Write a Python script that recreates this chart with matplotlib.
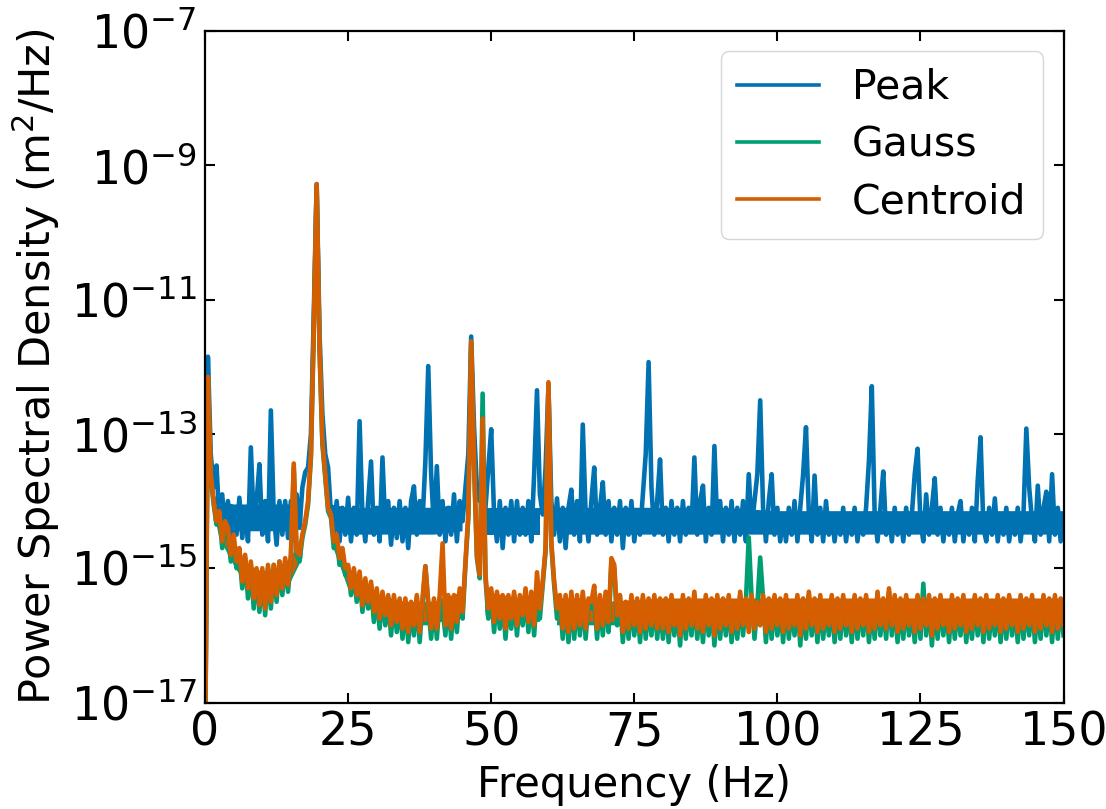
import matplotlib
matplotlib.use("Agg")
import matplotlib.pyplot as plt
import numpy as np

nan = float("nan")

# frequency axis: one reading every 0.5 Hz, 0..150 Hz
freq = np.linspace(0, 150, 301)

# log10 of PSD (m^2/Hz), one row per 10 Hz
peak_log = [
    -18.0, -11.85, -13.3, -13.8, -13.47, -14.3, -13.9, -14.5, -14.0, -14.6, -14.1, -14.5, -13.95, -14.55, -14.1, -14.6, -13.2, -14.3, -14.0, -13.45,
    -14.5, -14.0, -14.6, -12.65, -14.2, -14.65, -14.0, -14.5, -14.0, -14.55, -14.0, -14.5, -13.9, -14.4, -13.8, -13.57, -13.5, -13.0, -11.2, -9.28,
    -11.5, -12.7, -13.3, -13.5, -14.2, -14.5, -14.0, -14.6, -14.1, -14.5, -13.95, -14.6, -14.1, -14.5, -12.81, -14.2, -14.6, -14.0, -13.41, -14.5,
    -14.1, -14.6, -13.35, -14.4, -14.0, -14.65, -14.1, -14.55, -14.0, -14.6, -14.1, -14.7, -14.0, -13.78, -14.5, -14.0, -14.3, -13.4, -11.99, -13.6,
    -14.4, -13.48, -14.5, -14.0, -14.6, -14.1, -14.5, -13.9, -14.6, -14.0, -14.3, -13.8, -13.3, -11.55, -12.9, -13.8, -14.0, -13.5, -14.1, -13.5,
    -12.93, -14.2, -14.6, -14.0, -14.7, -14.1, -14.5, -14.0, -14.6, -14.0, -14.5, -14.1, -14.5, -14.0, -14.6, -13.6, -12.35, -13.9, -14.2, -13.5,
    -12.3, -14.0, -14.5, -13.96, -14.6, -14.1, -14.7, -14.1, -13.83, -14.5, -14.0, -14.6, -12.86, -14.2, -14.6, -14.0, -13.5, -14.5, -14.1, -13.72,
    -14.5, -14.0, -14.6, -14.1, -14.5, -14.0, -14.7, -14.1, -14.5, -14.0, -14.6, -14.2, -14.5, -13.9, -13.3, -11.93, -13.8, -14.5, -14.0, -13.38,
    -14.5, -14.1, -14.6, -14.0, -14.5, -14.1, -14.6, -14.0, -14.5, -14.1, -14.4, -13.35, -14.5, -14.0, -13.77, -14.6, -14.1, -14.5, -13.18, -14.4,
    -14.0, -14.6, -14.1, -14.5, -14.0, -14.6, -14.1, -14.5, -14.0, -14.6, -13.6, -14.4, -14.0, -13.6, -12.5, -14.1, -14.6, -14.0, -13.6, -14.5,
    -14.1, -14.6, -14.2, -14.6, -14.1, -14.5, -14.0, -14.6, -14.1, -13.6, -12.9, -14.2, -14.6, -13.62, -14.5, -14.1, -14.6, -14.0, -14.5, -14.2,
    -14.6, -14.2, -14.5, -14.1, -14.6, -14.2, -14.5, -14.1, -14.6, -14.2, -14.5, -14.1, -13.4, -12.29, -14.2, -14.6, -14.1, -13.56, -14.5, -14.2,
    -14.6, -14.1, -14.5, -14.2, -14.6, -14.1, -14.5, -14.2, -13.6, -13.22, -14.3, -14.6, -13.9, -14.5, -14.1, -13.66, -14.5, -14.1, -14.6, -14.2,
    -14.5, -14.1, -14.6, -14.2, -14.0, -14.6, -14.2, -14.5, -14.1, -14.6, -13.7, -13.05, -14.4, -14.6, -14.1, -14.5, -13.96, -14.6, -14.2, -14.5,
    -14.1, -14.6, -14.2, -14.5, -14.1, -14.6, -14.2, -12.92, -13.8, -14.3, -14.6, -13.77, -14.5, -14.1, -13.86, -14.6, -13.6, -14.5, -14.1, -14.6,
    -14.2,
]

gauss_log = [
    -18.0, -12.2, -13.65, -14.05, -14.35, -14.2, -14.7, -14.35, -14.5, -14.9, -14.6, -15.0, -14.8, -15.3, -14.85, -15.45, -14.95, -15.6, -15.05, -15.65,
    -15.05, -15.7, -15.0, -15.6, -14.95, -15.5, -14.9, -15.4, -14.9, -15.35, -14.85, -13.5, -14.8, -14.9, -14.55, -14.35, -14.05, -13.35, -11.45, -9.3,
    -11.75, -13.15, -13.65, -14.15, -14.25, -14.7, -14.55, -14.95, -14.75, -15.1, -15.0, -15.4, -15.05, -15.5, -15.1, -15.65, -15.2, -15.6, -15.25, -15.8,
    -15.35, -15.9, -15.4, -15.85, -15.45, -16.0, -15.45, -15.95, -15.5, -16.05, -15.5, -16.1, -15.55, -16.0, -15.45, -16.1, -15.5, -14.97, -15.55, -16.05,
    -15.5, -16.05, -15.45, -15.6, -16.0, -15.45, -16.05, -15.45, -15.95, -15.35, -15.75, -14.95, -14.25, -11.65, -13.45, -14.85, -15.15, -12.4, -15.15, -15.75,
    -15.35, -15.95, -15.4, -15.9, -15.45, -16.05, -15.45, -15.9, -15.4, -16.0, -15.45, -15.85, -15.35, -15.95, -15.4, -16.0, -15.35, -15.75, -15.25, -14.75,
    -12.25, -14.65, -15.25, -15.75, -15.45, -16.05, -15.45, -16.1, -15.4, -16.05, -15.45, -16.0, -15.4, -16.05, -15.5, -15.6, -15.45, -16.05, -15.45, -16.0,
    -15.4, -15.95, -14.9, -15.0, -15.85, -15.45, -16.1, -15.55, -16.05, -15.45, -16.0, -15.5, -16.1, -15.45, -16.05, -15.5, -16.0, -15.45, -16.05, -15.5,
    -16.05, -15.5, -16.1, -15.45, -16.0, -15.55, -16.15, -15.45, -16.05, -15.5, -16.0, -15.4, -16.05, -15.55, -16.1, -15.45, -16.0, -15.5, -16.15, -15.45,
    -16.05, -15.5, -16.0, -15.45, -16.1, -15.55, -16.05, -15.4, -16.0, -15.5, -14.54, -15.45, -16.05, -15.55, -14.84, -15.45, -16.1, -15.5, -16.05, -15.45,
    -16.0, -15.5, -16.1, -15.45, -16.05, -15.55, -16.0, -15.45, -16.15, -15.5, -16.05, -15.4, -16.0, -15.5, -16.1, -15.45, -16.05, -15.55, -16.0, -15.45,
    -16.1, -15.5, -16.05, -15.45, -16.0, -15.55, -16.1, -15.45, -16.05, -15.5, -16.0, -15.45, -16.1, -15.55, -16.05, -15.4, -16.0, -15.5, -16.05, -15.35,
    -16.0, -15.45, -16.1, -15.5, -16.05, -15.45, -16.0, -15.55, -16.1, -15.45, -16.05, -15.23, -16.0, -15.45, -16.15, -15.5, -16.05, -15.45, -16.0, -15.55,
    -16.1, -15.45, -16.05, -15.5, -16.0, -15.45, -16.1, -15.55, -16.05, -15.45, -16.0, -15.5, -16.1, -15.45, -16.05, -15.55, -16.0, -15.45, -16.1, -15.5,
    -16.05, -15.45, -16.0, -15.55, -16.1, -15.45, -16.05, -15.5, -16.0, -15.45, -16.1, -15.55, -16.05, -15.45, -16.0, -15.5, -16.1, -15.45, -16.05, -15.5,
    -16.0,
]

centroid_log = [
    -18.0, -12.15, -13.6, -14.0, -14.3, -14.15, -14.6, -14.3, -14.4, -14.8, -14.5, -14.9, -14.7, -15.2, -14.8, -15.3, -14.9, -15.45, -15.0, -15.55,
    -15.0, -15.6, -14.95, -15.5, -14.95, -15.4, -14.9, -15.3, -14.85, -15.25, -14.8, -13.44, -14.75, -14.8, -14.5, -14.3, -14.0, -13.3, -11.4, -9.28,
    -11.7, -13.1, -13.6, -14.1, -14.2, -14.6, -14.5, -14.85, -14.7, -15.0, -14.95, -15.3, -15.0, -15.4, -15.05, -15.55, -15.15, -15.5, -15.2, -15.65,
    -15.3, -15.75, -15.35, -15.7, -15.4, -15.85, -15.4, -15.8, -15.45, -15.9, -15.45, -15.95, -15.5, -15.85, -15.4, -15.95, -15.45, -14.97, -15.5, -15.9,
    -15.45, -15.9, -15.4, -14.63, -15.85, -15.4, -15.9, -15.4, -15.8, -15.3, -15.65, -14.9, -14.2, -11.62, -13.4, -14.8, -15.1, -12.77, -15.1, -15.6,
    -15.3, -15.8, -15.35, -15.75, -15.4, -15.9, -15.4, -15.75, -15.35, -15.85, -15.4, -15.7, -15.3, -15.8, -15.35, -15.85, -15.06, -15.6, -15.2, -14.7,
    -12.23, -14.6, -15.2, -15.6, -15.4, -15.9, -15.4, -15.95, -15.35, -15.9, -15.4, -15.85, -15.35, -15.9, -15.45, -15.5, -15.26, -15.9, -15.4, -15.85,
    -15.35, -15.8, -14.85, -14.95, -15.7, -15.4, -15.95, -15.5, -15.9, -15.4, -15.85, -15.45, -15.95, -15.4, -15.9, -15.45, -15.85, -15.4, -15.9, -15.45,
    -15.9, -15.45, -15.95, -15.4, -15.85, -15.5, -16.0, -15.4, -15.9, -15.45, -15.85, -15.35, -15.9, -15.5, -15.95, -15.4, -15.85, -15.45, -16.0, -15.4,
    -15.9, -15.45, -15.85, -15.4, -15.95, -15.5, -15.9, -15.35, -15.85, -15.45, -15.95, -15.4, -15.9, -15.5, -15.85, -15.4, -15.95, -15.45, -15.9, -15.4,
    -15.85, -15.45, -15.95, -15.4, -15.9, -15.5, -15.85, -15.4, -16.0, -15.45, -15.9, -15.35, -15.85, -15.45, -15.95, -15.4, -15.9, -15.5, -15.85, -15.4,
    -15.95, -15.45, -15.9, -15.4, -15.85, -15.5, -15.95, -15.4, -15.9, -15.45, -15.85, -15.4, -15.95, -15.5, -15.9, -15.35, -15.85, -15.45, -15.9, -15.3,
    -15.85, -15.4, -15.95, -15.45, -15.9, -15.4, -15.85, -15.5, -15.95, -15.4, -15.9, -15.45, -15.85, -15.4, -16.0, -15.45, -15.9, -15.4, -15.85, -15.5,
    -15.95, -15.4, -15.9, -15.45, -15.85, -15.4, -15.95, -15.5, -15.9, -15.4, -15.85, -15.45, -15.95, -15.4, -15.9, -15.5, -15.85, -15.4, -15.95, -15.45,
    -15.9, -15.4, -15.85, -15.5, -15.95, -15.4, -15.9, -15.45, -15.85, -15.4, -15.95, -15.5, -15.9, -15.4, -15.85, -15.45, -15.95, -15.4, -15.9, -15.45,
    -15.85,
]

# dense core of each noise floor (log10), where the trace overlaps itself;
# nan leaves a gap at the large resonances
band_freq = [1.5, 2.5, 5, 7.5, 10, 12.5, 15, 17, 19.5, 22,
             25, 30, 35, 40, 45, 47, 49, 55, 58.5, 60,
             61.5, 65, 70, 80, 90, 100, 110, 120, 130, 140,
             150]
peak_core_hi = [-13.9, -14.0, -14.05, -14.05, -14.05, -14.05, -14.05, -13.95, nan, -14.05,
                -14.1, -14.1, -14.1, -14.1, -14.05, nan, -14.1, -14.1, -14.1, nan,
                -14.1, -14.1, -14.1, -14.1, -14.1, -14.15, -14.15, -14.15, -14.15, -14.15,
                -14.15]
peak_core_lo = [-14.3, -14.4, -14.45, -14.45, -14.45, -14.45, -14.45, -14.35, nan, -14.4,
                -14.5, -14.5, -14.5, -14.5, -14.45, nan, -14.5, -14.5, -14.5, nan,
                -14.5, -14.5, -14.5, -14.5, -14.5, -14.5, -14.5, -14.5, -14.5, -14.5,
                -14.5]
cent_core_hi = [-13.9, -14.2, -14.6, -14.95, -15.05, -15.0, -14.85, -14.5, nan, -14.3,
                -15.0, -15.4, -15.5, -15.5, -15.35, nan, -15.35, -15.45, -15.45, nan,
                -15.45, -15.45, -15.5, -15.45, -15.45, -15.45, -15.45, -15.45, -15.45, -15.45,
                -15.45]
cent_core_lo = [-14.1, -14.5, -14.9, -15.25, -15.4, -15.3, -15.15, -14.8, nan, -14.55,
                -15.25, -15.65, -15.8, -15.8, -15.6, nan, -15.65, -15.75, -15.75, nan,
                -15.8, -15.8, -15.8, -15.8, -15.8, -15.8, -15.8, -15.8, -15.8, -15.8,
                -15.8]
gauss_core_hi = [-13.95, -14.25, -14.65, -15.0, -15.1, -15.05, -14.9, -14.55, nan, -14.35,
                 -15.05, -15.45, -15.55, -15.55, -15.4, nan, -15.4, -15.5, -15.5, nan,
                 -15.5, -15.5, -15.55, -15.5, -15.5, -15.5, -15.5, -15.5, -15.5, -15.5,
                 -15.5]
gauss_core_lo = [-14.15, -14.55, -14.95, -15.3, -15.45, -15.35, -15.2, -14.85, nan, -14.6,
                 -15.3, -15.7, -15.85, -15.85, -15.65, nan, -15.7, -15.8, -15.8, nan,
                 -15.85, -15.85, -15.85, -15.85, -15.85, -15.85, -15.85, -15.85, -15.85, -15.85,
                 -15.85]

series_labels = ["Peak", "Gauss", "Centroid"]
colors = ["#0072B2", "#009E73", "#D55E00"]
traces = [peak_log, gauss_log, centroid_log]
cores = [(peak_core_lo, peak_core_hi), (gauss_core_lo, gauss_core_hi), (cent_core_lo, cent_core_hi)]

for name, vals in zip(series_labels, traces):
    if len(vals) != len(freq):
        raise ValueError(f"{name}: {len(vals)} values, expected {len(freq)}")

plt.rcParams["font.family"] = "DejaVu Sans"

fig = plt.figure(figsize=(11.06, 8.09), dpi=100)
ax = fig.add_axes([0.1854, 0.1316, 0.7762, 0.8301])

for name, vals, (lo, hi), c in zip(series_labels, traces, cores, colors):
    ax.fill_between(band_freq, 10.0 ** np.array(lo), 10.0 ** np.array(hi),
                    color=c, lw=0)
    ax.plot(freq, 10.0 ** np.array(vals), color=c, lw=3.3, label=name)

ax.set_yscale("log")
ax.set_xlim(0, 150)
ax.set_ylim(1e-17, 1e-7)
ax.set_xticks([0, 25, 50, 75, 100, 125, 150])
ax.set_yticks([1e-17, 1e-15, 1e-13, 1e-11, 1e-9, 1e-7])
ax.minorticks_off()
ax.tick_params(which="both", direction="in", top=True, right=True,
               length=7, width=1.5, pad=6, labelsize=33)
for sp in ax.spines.values():
    sp.set_linewidth(1.6)

ax.set_xlabel("Frequency (Hz)", fontsize=30, labelpad=6)
ax.set_ylabel("Power Spectral Density (m$^2$/Hz)", fontsize=31, labelpad=6)

leg = ax.legend(loc="upper right", fontsize=29.5, labelspacing=0.42, handlelength=2.0)
for ln in leg.get_lines():
    ln.set_linewidth(2.6)

plt.savefig("out.png", dpi=100)
